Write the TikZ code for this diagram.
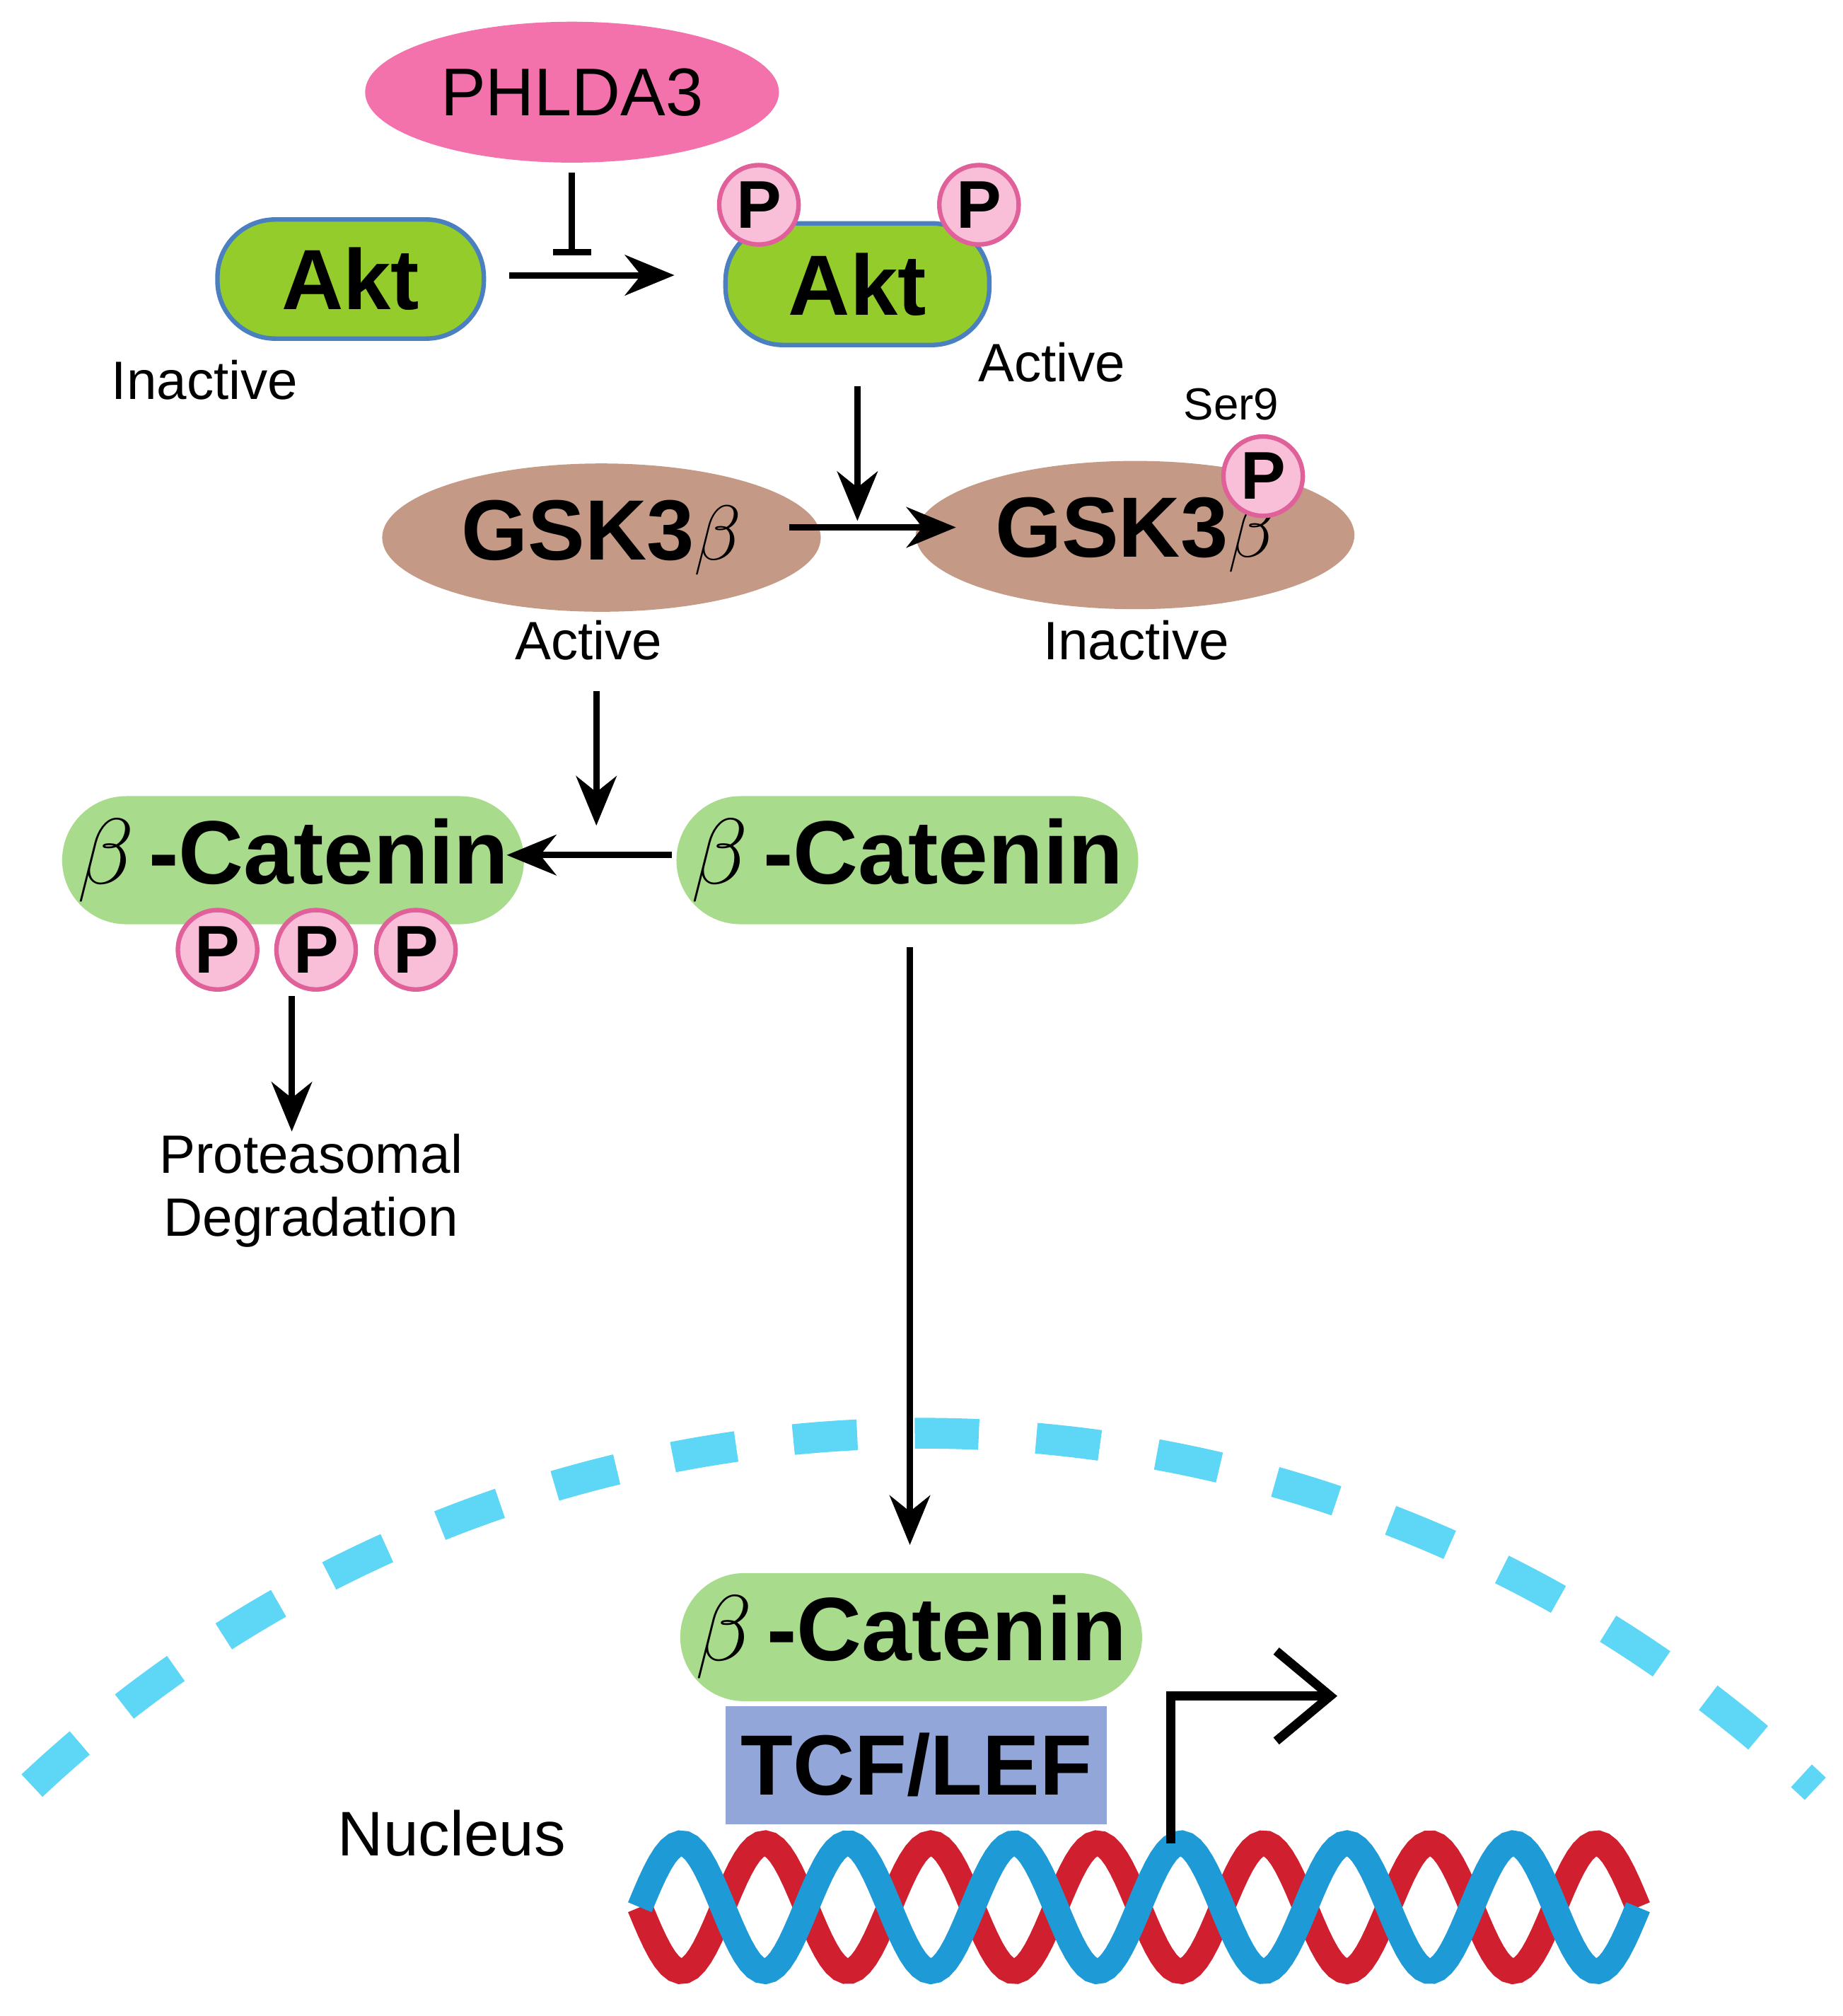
\documentclass[tikz,border=0pt]{standalone}
\usepackage{fontspec}
\setmainfont{Liberation Sans}
\usetikzlibrary{arrows.meta,shapes.geometric}
\definecolor{pk}{HTML}{F472AC}
\definecolor{pfill}{HTML}{F9BFD8}
\definecolor{pline}{HTML}{E0609A}
\definecolor{akt}{HTML}{94CC2C}
\definecolor{aktb}{HTML}{4A7FC0}
\definecolor{gsk}{HTML}{C49A86}
\definecolor{cat}{HTML}{A8DB8B}
\definecolor{tcf}{HTML}{93A6D9}
\definecolor{nuc}{HTML}{5ED6F5}
\definecolor{dred}{HTML}{D0202F}
\definecolor{dblue}{HTML}{1E9AD6}
\begin{document}
\begin{tikzpicture}[x=0.01cm,y=-0.01cm,
 arr/.style={line width=1.4pt,-{Stealth[length=11pt,width=9pt]}},
 big/.style={font=\fontsize{19}{21}\selectfont\bfseries},
 lab/.style={font=\fontsize{12}{14}\selectfont},
 ph/.style={circle,draw=pline,line width=1pt,fill=pfill,minimum size=0.62cm,inner sep=0pt,font=\fontsize{15}{16}\selectfont\bfseries},
 catb/.style={rounded corners=0.5cm,fill=cat,minimum width=3.08cm,minimum height=1.0cm,font=\fontsize{20}{22}\selectfont\bfseries}]
\useasboundingbox (0,0) rectangle (1440,1575);
% PHLDA3
\node[ellipse,fill=pk,minimum width=2.44cm,minimum height=1.1cm,font=\fontsize{15}{17}\selectfont] (ph) at (447,72) {PHLDA3};
% Akt
\node[rounded corners=0.45cm,fill=akt,draw=aktb,line width=1pt,minimum width=2.08cm,minimum height=0.93cm,big] (akt1) at (274,218) {Akt};
\node[lab] (in1) at (160,297) {Inactive};
\node[rounded corners=0.45cm,fill=akt,draw=aktb,line width=1pt,minimum width=2.06cm,minimum height=0.95cm,big] (akt2) at (670,222) {Akt};
\node[ph] (p1) at (593,160) {P};
\node[ph] (p2) at (765,160) {P};
\node[lab] (ac1) at (822,283) {Active};
\coordinate (a1s) at (398,215); \coordinate (a1e) at (527,215);
\draw[arr] (a1s) -- (a1e);
\coordinate (inh) at (447,197);
\draw[line width=1.4pt] (447,135) -- (inh);
\draw[line width=1.4pt] (432,197) -- (462,197);
% GSK
\node[ellipse,fill=gsk,minimum width=2.46cm,minimum height=1.1cm,big] (g1) at (470,420) {GSK3$\beta$};
\node[lab] (ac2) at (460,500) {Active};
\node[ellipse,fill=gsk,minimum width=2.46cm,minimum height=1.1cm,big] (g2) at (887,418) {GSK3$\beta$};
\node[ph] (p3) at (987,372) {P};
\node[font=\fontsize{10}{12}\selectfont] (ser) at (962,316) {Ser9};
\node[lab] (in2) at (888,500) {Inactive};
\draw[arr] (617,412) -- (747,412);
\draw[arr] (670,302) -- (670,407);
% beta-catenin
\draw[arr] (466,540) -- (466,645);
\node[catb] (c1) at (229,672) {$\beta$\,-Catenin};
\node[ph] (p4) at (170,742) {P};
\node[ph] (p5) at (247,742) {P};
\node[ph] (p6) at (325,742) {P};
\node[catb] (c2) at (709,672) {$\beta$\,-Catenin};
\draw[arr] (525,668) -- (396,668);
\draw[arr] (228,778) -- (228,884);
\node[lab,align=center] (deg) at (243,930) {Proteasomal\\Degradation};
\draw[arr] (711,740) -- (711,1207);
% nucleus
\draw[nuc,line width=0.24cm,dash pattern=on 0.5cm off 0.45cm] (25,1395) arc[start angle=-133.2,end angle=-46.6,radius=1016];
\node[font=\fontsize{14}{16}\selectfont] (nu) at (353,1432) {Nucleus};
% DNA
\draw[dred,line width=0.2cm,domain=500:1280,samples=200] plot (\x,{1490+50*sin(((\x-500)/130)*360)});
\draw[dblue,line width=0.2cm,domain=500:1280,samples=200] plot (\x,{1490-50*sin(((\x-500)/130)*360)});
\node[catb] (c3) at (712,1279) {$\beta$\,-Catenin};
\node[fill=tcf,minimum width=2.53cm,minimum height=0.92cm,font=\fontsize{19}{21}\selectfont\bfseries] (tcf) at (716,1379) {TCF/LEF};
\coordinate (ps) at (915,1440);
\coordinate (pe) at (1045,1325);
\draw[line width=2pt,-{Straight Barb[length=12pt,width=20pt]}] (ps) -- (915,1325) -- (pe);
\end{tikzpicture}
\end{document}
